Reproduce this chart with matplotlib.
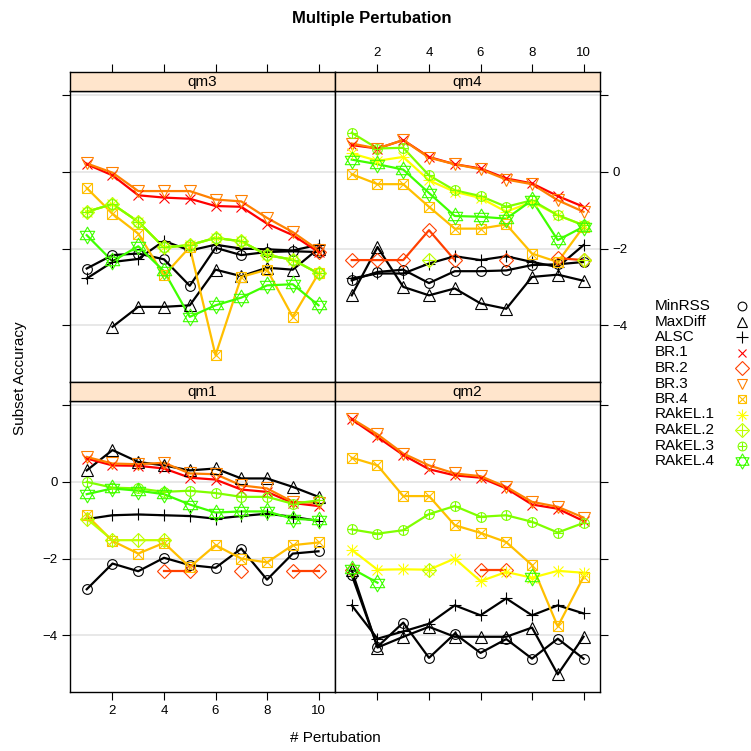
import numpy as np
import matplotlib
matplotlib.use("Agg")
import matplotlib.pyplot as plt
from matplotlib.path import Path

plt.rcParams['font.family'] = ['Liberation Sans', 'DejaVu Sans']

nan = np.nan
x = np.arange(1, 11)

series_names = ["MinRSS", "MaxDiff", "ALSC", "BR.1", "BR.2", "BR.3", "BR.4",
                "RAkEL.1", "RAkEL.2", "RAkEL.3", "RAkEL.4"]

# subset accuracy per panel
qm3 = {
    "MinRSS":  [-2.52, -2.17, -2.13, -2.28, -2.97, -1.98, -2.17, -2.09, -2.07, -2.09],
    "MaxDiff": [nan, -4.04, -3.52, -3.52, -3.48, -2.55, -2.72, -2.5, -2.55, -2.0],
    "ALSC":    [-2.78, -2.35, -2.27, -1.8, -2.05, -1.9, -2.0, -2.02, -2.05, -1.9],
    "BR.1":    [0.2, -0.09, -0.61, -0.67, -0.70, -0.89, -0.91, -1.35, -1.65, -2.09],
    "BR.2":    [nan, nan, nan, nan, nan, nan, nan, nan, nan, -2.1],
    "BR.3":    [0.22, -0.02, -0.5, -0.5, -0.5, -0.72, -0.77, -1.2, -1.57, -2.04],
    "BR.4":    [-0.42, -1.09, -1.61, -2.7, -1.96, -4.78, -2.74, -2.55, -3.78, -2.65],
    "RAkEL.1": [-1.04, -0.84, -1.3, -1.97, -1.91, -1.72, -1.81, -2.17, -2.29, -2.65],
    "RAkEL.2": [-1.04, -0.84, -1.3, -1.97, -1.91, -1.72, -1.81, -2.17, -2.29, -2.65],
    "RAkEL.3": [-1.04, -0.84, -1.3, -1.97, -1.91, -1.72, -1.81, -2.17, -2.29, -2.65],
    "RAkEL.4": [-1.65, -2.33, -1.94, -2.59, -3.78, -3.48, -3.28, -2.96, -2.93, -3.48],
}

qm4 = {
    "MinRSS":  [-2.83, -2.61, -2.55, -2.9, -2.59, -2.59, -2.57, -2.43, -2.41, -2.35],
    "MaxDiff": [-3.22, -1.96, -3.0, -3.22, -3.04, -3.43, -3.57, -2.74, -2.68, -2.84],
    "ALSC":    [-2.78, -2.65, -2.65, -2.39, -2.2, -2.3, -2.2, -2.35, -2.48, -1.91],
    "BR.1":    [0.70, 0.61, 0.83, 0.39, 0.2, 0.09, -0.17, -0.3, -0.63, -0.91],
    "BR.2":    [-2.3, -2.3, -2.3, -1.52, -2.3, nan, -2.3, nan, -2.25, -2.3],
    "BR.3":    [0.74, 0.61, 0.83, 0.37, 0.2, 0.07, -0.2, -0.32, -0.74, -1.04],
    "BR.4":    [-0.06, -0.32, -0.32, -0.91, -1.48, -1.48, -1.37, -2.13, -2.35, -1.43],
    "RAkEL.1": [0.48, 0.29, 0.39, -0.22, -0.52, -0.68, -1.04, -0.78, -1.13, -1.39],
    "RAkEL.2": [nan, nan, nan, -2.3, nan, nan, nan, nan, nan, -2.3],
    "RAkEL.3": [1.02, 0.61, 0.63, -0.09, -0.48, -0.63, -0.91, -0.74, -1.13, -1.39],
    "RAkEL.4": [0.32, 0.2, 0.06, -0.55, -1.15, -1.17, -1.22, -0.74, -1.78, -1.43],
}

qm1 = {
    "MinRSS":  [-2.8, -2.13, -2.33, -1.98, -2.17, -2.24, -1.74, -2.55, -1.87, -1.81],
    "MaxDiff": [0.3, 0.83, 0.52, 0.43, 0.3, 0.35, 0.09, 0.09, -0.13, -0.39],
    "ALSC":    [-0.97, -0.87, -0.85, -0.87, -0.89, -0.96, -0.89, -0.83, -0.91, -1.02],
    "BR.1":    [0.61, 0.43, 0.42, 0.35, 0.11, 0.06, -0.2, -0.26, -0.55, -0.63],
    "BR.2":    [nan, nan, nan, -2.32, -2.32, nan, -2.32, nan, -2.32, -2.32],
    "BR.3":    [0.65, 0.48, 0.46, 0.5, 0.22, 0.2, -0.09, -0.17, -0.52, -0.55],
    "BR.4":    [-0.87, -1.54, -1.87, -1.59, -2.22, -1.65, -2.0, -2.1, -1.65, -1.58],
    "RAkEL.1": [nan] * 10,
    "RAkEL.2": [-0.96, -1.52, -1.52, -1.52, nan, nan, nan, nan, nan, nan],
    "RAkEL.3": [0.0, -0.15, -0.17, -0.26, -0.23, -0.29, -0.39, -0.39, -0.57, -0.48],
    "RAkEL.4": [-0.32, -0.17, -0.23, -0.32, -0.59, -0.8, -0.77, -0.77, -0.96, -1.0],
}

qm2 = {
    "MinRSS":  [-2.43, -4.3, -3.67, -4.59, -3.96, -4.46, -4.1, -4.61, -4.09, -4.61],
    "MaxDiff": [-2.3, -4.32, -4.04, -3.78, -4.04, -4.04, -4.04, -3.8, -5.02, -4.04],
    "ALSC":    [-3.22, -4.09, -3.9, -3.7, -3.22, -3.48, -3.04, -3.48, -3.22, -3.43],
    "BR.1":    [1.63, 1.17, 0.7, 0.33, 0.17, 0.11, -0.17, -0.59, -0.7, -1.02],
    "BR.2":    [-2.3, nan, nan, nan, nan, -2.3, -2.3, nan, nan, nan],
    "BR.3":    [1.65, 1.24, 0.74, 0.43, 0.22, 0.15, -0.13, -0.52, -0.65, -0.93],
    "BR.4":    [0.63, 0.43, -0.37, -0.37, -1.13, -1.33, -1.57, -2.17, -3.77, -2.48],
    "RAkEL.1": [-1.77, -2.29, -2.28, -2.29, -2.0, -2.59, -2.35, -2.5, -2.32, -2.37],
    "RAkEL.2": [nan, nan, nan, -2.29, nan, nan, nan, nan, nan, nan],
    "RAkEL.3": [-1.24, -1.35, -1.26, -0.84, -0.63, -0.91, -0.87, -1.04, -1.32, -1.07],
    "RAkEL.4": [-2.26, -2.63, nan, nan, nan, nan, nan, -2.48, nan, nan],
}

colors = {
    "MinRSS": "black", "MaxDiff": "black", "ALSC": "black",
    "BR.1": "#FF0000", "BR.2": "#FF4000", "BR.3": "#FF8000", "BR.4": "#FFBF00",
    "RAkEL.1": "#FFFF00", "RAkEL.2": "#BFFF00", "RAkEL.3": "#80FF00", "RAkEL.4": "#40FF00",
}


def triangle(start_deg):
    a = np.deg2rad(start_deg + np.array([0, 120, 240]))
    return [(np.cos(t), np.sin(t)) for t in a]


# pch 11: two triangles on a common centre (star of David)
up, down = triangle(90), triangle(270)
hexagram = Path(up + [up[0]] + down + [down[0]],
                [Path.MOVETO, Path.LINETO, Path.LINETO, Path.CLOSEPOLY] * 2)

# lattice pch 1..11 built from overlaid matplotlib markers
markers = {
    "MinRSS": [("o", 7)],
    "MaxDiff": [("^", 8)],
    "ALSC": [("+", 9)],
    "BR.1": [("x", 7)],
    "BR.2": [("D", 7.5)],
    "BR.3": [("v", 8)],
    "BR.4": [("s", 7), ("x", 7)],
    "RAkEL.1": [("+", 9), ("x", 7)],
    "RAkEL.2": [("D", 7.5), ("+", 10)],
    "RAkEL.3": [("o", 7), ("+", 7)],
    "RAkEL.4": [(hexagram, 12)],
}

W = 751.0
fig = plt.figure(figsize=(7.51, 7.51), dpi=100)


def fx(px):
    return px / W


def fy(py):
    return 1 - py / W


L, M, R = 70, 335, 600
XLIM = (0.35, 10.64)
YLIM = (-5.48, 2.11)
minus = "\u2212"


def panel(left, right, strip_top, strip_bot, bottom, name, data):
    ax = fig.add_axes([fx(left), fy(bottom), fx(right - left), fy(strip_bot) - fy(bottom)])
    st = fig.add_axes([fx(left), fy(strip_bot), fx(right - left), fy(strip_top) - fy(strip_bot)])
    st.set_facecolor("#FFE5CC")
    st.set_xlim(XLIM)
    st.set_yticks([])
    st.text(0.5, 0.45, name, transform=st.transAxes, ha="center", va="center", fontsize=11)
    for s in st.spines.values():
        s.set_linewidth(1.0)

    ax.set_xlim(XLIM)
    ax.set_ylim(YLIM)
    ax.set_yticks([-4, -2, 0, 2])
    ax.set_xticks([2, 4, 6, 8, 10])
    ax.grid(axis="y", color="#E6E6E6", lw=1.3, zorder=0)
    ax.set_axisbelow(True)
    for s in ax.spines.values():
        s.set_linewidth(1.0)

    for nm in series_names:
        y = np.array(data[nm], dtype=float)
        c = colors[nm]
        ax.plot(x, y, color=c, lw=1.6, zorder=2)
        for mk, ms in markers[nm]:
            ax.plot(x, y, ls="none", marker=mk, ms=ms, mfc="none", mec=c, mew=0.8, zorder=3)
    return ax, st


tick_kw = dict(direction="out", length=6, width=0.8, labelsize=9.5, pad=3)

ax3, st3 = panel(L, M, 72, 91, 382, "qm3", qm3)
ax4, st4 = panel(M, R, 72, 91, 382, "qm4", qm4)
ax1, st1 = panel(L, M, 382, 401, 692, "qm1", qm1)
ax2, st2 = panel(M, R, 382, 401, 692, "qm2", qm2)

ylabels = [minus + "4", minus + "2", "0", ""]

# top row: x ticks above the strips, labels only on qm4
for st, lab in [(st3, False), (st4, True)]:
    st.set_xticks([2, 4, 6, 8, 10])
    st.tick_params(axis="x", top=True, bottom=False, labeltop=lab, labelbottom=False, **tick_kw)
for st in [st1, st2]:
    st.set_xticks([])
for ax in [ax3, ax4]:
    ax.tick_params(axis="x", bottom=False, labelbottom=False)

# bottom row: x ticks below, labels only on qm1
ax1.tick_params(axis="x", bottom=True, labelbottom=True, **tick_kw)
ax2.tick_params(axis="x", bottom=True, labelbottom=False, **tick_kw)

# left column ticks, labels only on qm1; right column ticks, labels only on qm4
ax3.tick_params(axis="y", left=True, labelleft=False, **tick_kw)
ax1.tick_params(axis="y", left=True, labelleft=True, **tick_kw)
ax1.set_yticklabels(ylabels)
ax4.tick_params(axis="y", left=False, labelleft=False, right=True, labelright=True, **tick_kw)
ax4.set_yticklabels(ylabels)
ax2.tick_params(axis="y", left=False, labelleft=False, right=True, labelright=False, **tick_kw)

fig.text(fx(372), fy(18), "Multiple Pertubation", ha="center", va="center",
         fontsize=12, fontweight="bold")
fig.text(fx((L + R) / 2), fy(738), "# Pertubation", ha="center", va="center", fontsize=11)
fig.text(fx(20), fy(378), "Subset Accuracy", ha="center", va="center", rotation=90, fontsize=11)

# key on the right
leg = fig.add_axes([0, 0, 1, 1])
leg.set_xlim(0, W)
leg.set_ylim(W, 0)
leg.axis("off")
for i, nm in enumerate(series_names):
    yy = 306 + i * 15.5
    leg.text(655, yy, nm, ha="left", va="center", fontsize=11)
    for mk, ms in markers[nm]:
        leg.plot([742], [yy], ls="none", marker=mk, ms=ms * 0.9, mfc="none",
                 mec=colors[nm], mew=0.8)

fig.savefig("out.png", dpi=100)
